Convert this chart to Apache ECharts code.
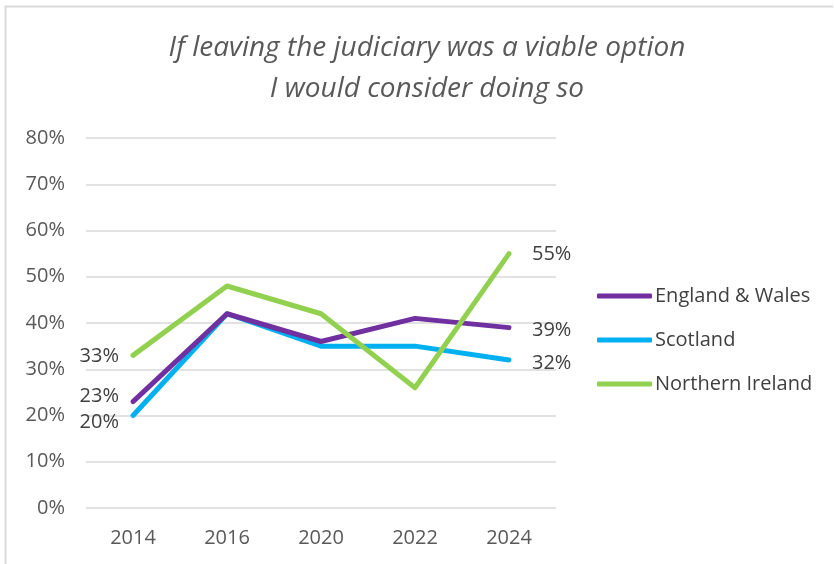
<!DOCTYPE html>
<html>
<head>
<meta charset="utf-8">
<script src="https://cdn.jsdelivr.net/npm/echarts@6/dist/echarts.min.js"></script>
<style>
  html, body { margin: 0; padding: 0; background: #fff; }
  #chart { width: 834px; height: 564px; }
</style>
</head>
<body>
<div id="chart"></div>
<script>
// Survey years on the x axis
const years = ['2014', '2016', '2020', '2022', '2024'];
// Share who would consider leaving (%)
const englandWales = [23, 42, 36, 41, 39];
const scotland = [20, 42, 35, 35, 32];
const northernIreland = [33, 48, 42, 26, 55];
const yTicks = [0, 10, 20, 30, 40, 50, 60, 70, 80];

const FONT = '"Open Sans", "Noto Sans", sans-serif';
const labelStyle = { fontFamily: FONT, fontSize: 20, color: '#404040' };

// Show the value label only on the first and last point of each line
function withEndLabels(values, firstOffset, lastOffset) {
  return values.map((v, i) => {
    if (i === 0) {
      return { value: v, label: Object.assign({ show: true, position: 'left', distance: 14, offset: firstOffset, formatter: '{c}%' }, labelStyle) };
    }
    if (i === values.length - 1) {
      return { value: v, label: Object.assign({ show: true, position: 'right', distance: 23, offset: lastOffset, formatter: '{c}%' }, labelStyle) };
    }
    return v;
  });
}

function lineSeries(name, values, color, firstOffset, lastOffset, z) {
  return {
    name: name,
    type: 'line',
    data: withEndLabels(values, firstOffset, lastOffset),
    symbol: 'circle',
    symbolSize: 0,
    showSymbol: true,
    color: color,
    itemStyle: { color: color },
    lineStyle: { width: 5, cap: 'round', join: 'round', color: color },
    emphasis: { disabled: true },
    z: z
  };
}

const chart = echarts.init(document.getElementById('chart'), null, { renderer: 'canvas' });

chart.setOption({
  animation: false,
  backgroundColor: '#fff',
  title: {
    text: 'If leaving the judiciary was a viable option\nI would consider doing so',
    left: 422,
    textAlign: 'center',
    top: 23,
    textStyle: {
      fontFamily: FONT,
      fontStyle: 'italic',
      fontWeight: 'normal',
      fontSize: 28,
      lineHeight: 41,
      color: '#595959'
    }
  },
  graphic: [
    { type: 'line', shape: { x1: 5, y1: 6.5, x2: 833, y2: 6.5 }, style: { stroke: '#d9d9d9', lineWidth: 2 } },
    { type: 'line', shape: { x1: 5.5, y1: 6, x2: 5.5, y2: 564 }, style: { stroke: '#d9d9d9', lineWidth: 2 } }
  ],
  grid: { left: 86, right: 278, top: 138, bottom: 56, containLabel: false },
  legend: {
    orient: 'vertical',
    left: 592,
    top: 279,
    icon: 'roundRect',
    itemWidth: 55,
    itemHeight: 5,
    itemGap: 20,
    textStyle: { fontFamily: FONT, fontSize: 20, color: '#404040', lineHeight: 24, padding: [0, 0, 0, -2] },
    data: ['England & Wales', 'Scotland', 'Northern Ireland']
  },
  xAxis: {
    type: 'category',
    data: years,
    boundaryGap: true,
    axisLine: { show: false },
    axisTick: { show: false },
    axisLabel: { margin: 20, fontFamily: FONT, fontSize: 20, color: '#595959' }
  },
  yAxis: {
    type: 'value',
    min: yTicks[0],
    max: yTicks[yTicks.length - 1],
    interval: 10,
    axisLine: { show: false },
    axisTick: { show: false },
    splitLine: { lineStyle: { color: '#d9d9d9', width: 1.5 } },
    axisLabel: { margin: 21, fontFamily: FONT, fontSize: 20, color: '#595959', formatter: '{value}%' }
  },
  series: [
    lineSeries('England & Wales', englandWales, '#7030a0', [0, -5], [0, 3], 3),
    lineSeries('Scotland', scotland, '#00b0f0', [0, 7], [0, 3], 2),
    lineSeries('Northern Ireland', northernIreland, '#92d050', [0, 1], [0, 1], 4)
  ]
});
</script>
</body>
</html>
